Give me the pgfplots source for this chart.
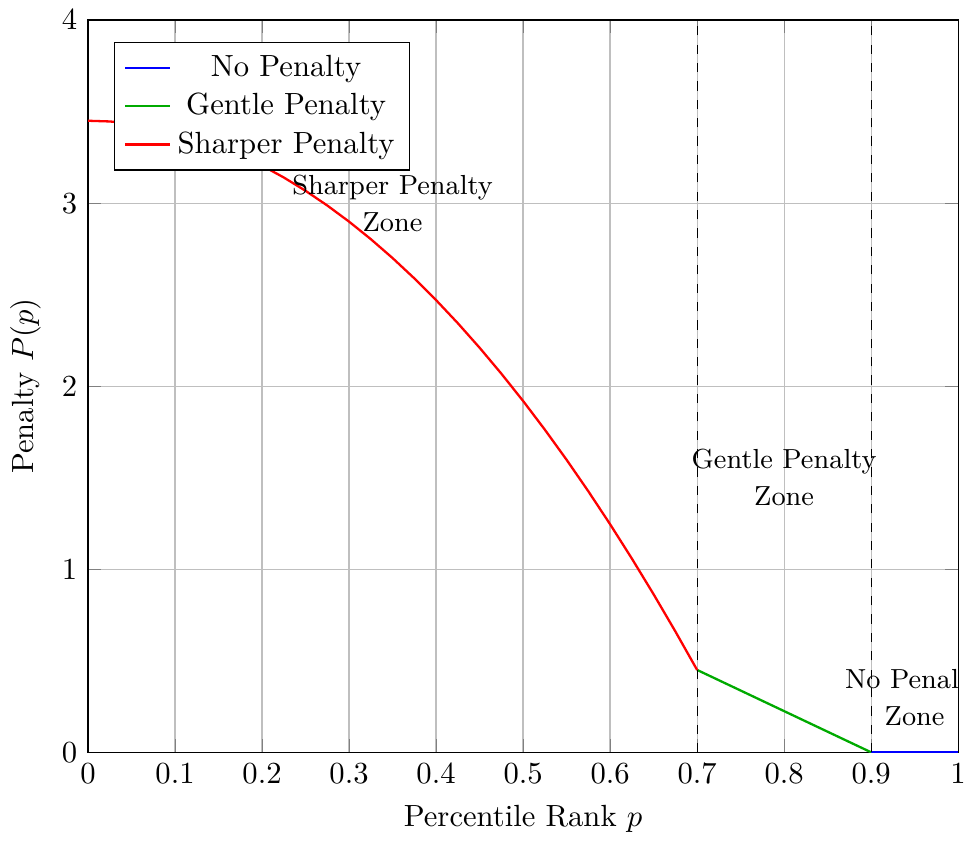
\documentclass[border=0pt]{standalone}
\usepackage{pgfplots}
\pgfplotsset{compat=1.18}
\definecolor{mygreen}{RGB}{0,170,0}
\begin{document}
\begin{tikzpicture}
\begin{axis}[
  scale only axis,
  width=284pt, height=239pt,
  xmin=0, xmax=1, ymin=0, ymax=4,
  xtick={0,0.1,0.2,0.3,0.4,0.5,0.6,0.7,0.8,0.9,1},
  xticklabels={0,0.1,0.2,0.3,0.4,0.5,0.6,0.7,0.8,0.9,1},
  ytick={0,1,2,3,4},
  grid=major,
  xlabel={Percentile Rank $p$},
  ylabel={Penalty $P(p)$},
  legend pos=north west,
  legend cell align=center,
  legend image code/.code={\draw[#1] (0cm,0cm) -- (0.52cm,0cm);},
]
\addplot[blue, line width=0.75pt] coordinates {(0.9,0) (1,0)};
\addlegendentry{No Penalty}
\addplot[mygreen, line width=0.75pt] coordinates {(0.7,0.45) (0.9,0)};
\addlegendentry{Gentle Penalty}
\addplot[red, line width=0.75pt] coordinates {
(0,3.45) (0.025,3.4462) (0.05,3.4347) (0.075,3.4156) (0.1,3.3888)
(0.125,3.3543) (0.15,3.3122) (0.175,3.2625) (0.2,3.2051) (0.225,3.1401)
(0.25,3.0673) (0.275,2.9870) (0.3,2.8990) (0.325,2.8033) (0.35,2.7000)
(0.375,2.5890) (0.4,2.4704) (0.425,2.3441) (0.45,2.2102) (0.475,2.0686)
(0.5,1.9194) (0.525,1.7625) (0.55,1.5980) (0.575,1.4258) (0.6,1.2459)
(0.625,1.0584) (0.65,0.8633) (0.675,0.6605) (0.7,0.45)};
\addlegendentry{Sharper Penalty}
\addplot[black, dashed, forget plot] coordinates {(0.7,0) (0.7,4)};
\addplot[black, dashed, forget plot] coordinates {(0.9,0) (0.9,4)};
\node[align=center, font=\fontsize{9}{12}\selectfont] at (axis cs:0.35,3) {Sharper Penalty\\Zone};
\node[align=center, font=\fontsize{9}{12}\selectfont] at (axis cs:0.8,1.5) {Gentle Penalty\\Zone};
\node[align=center, overlay, font=\fontsize{9}{12}\selectfont] at (axis cs:0.95,0.3) {No Penalty\\Zone};
\end{axis}
\end{tikzpicture}
\end{document}
